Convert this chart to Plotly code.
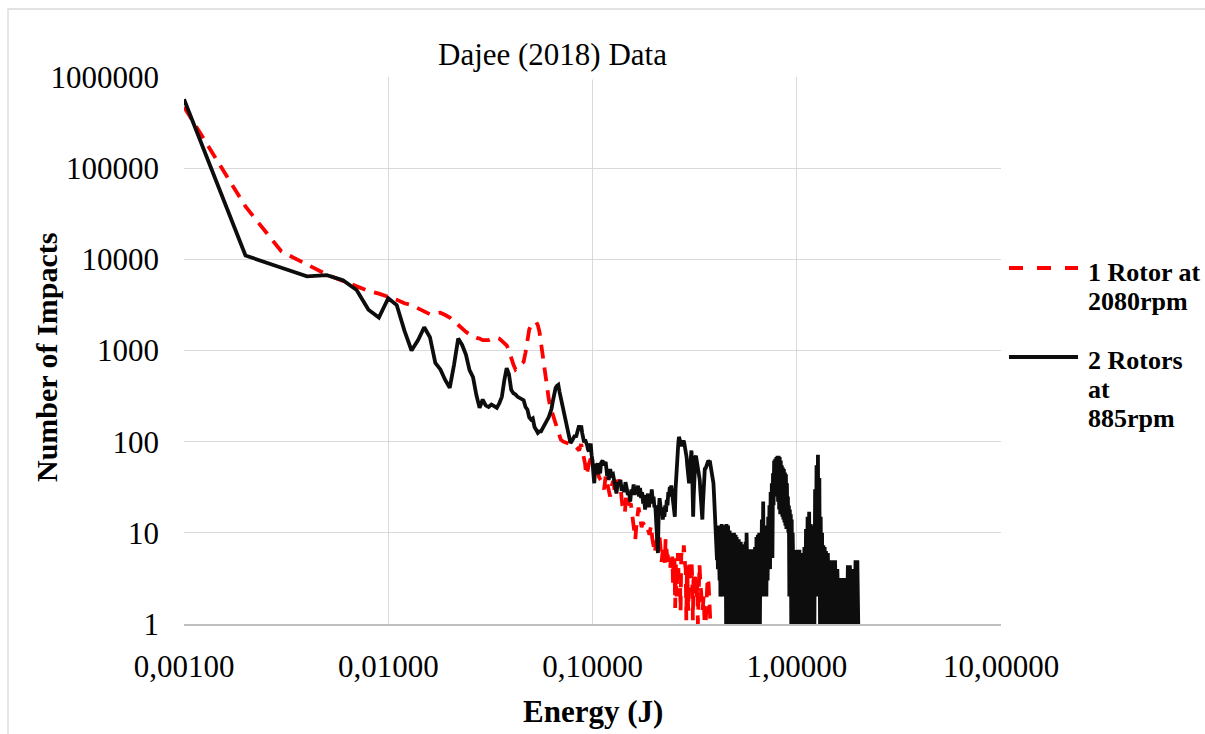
import plotly.graph_objects as go

# ---------------- data (energy in mJ, converted to J below) ----------------
# 2 Rotors at 885rpm
black_energy_mj = [
    1, 2, 3, 4, 5, 6, 7, 8, 9, 10,
    11, 12, 13, 14, 15, 16, 17, 18, 19, 20,
    21, 22, 23, 24, 25, 26, 27, 28, 29, 30,
    31, 32, 33, 34, 35, 36, 37, 38, 39, 40,
    41, 42, 43, 44, 45, 46, 47, 48, 49, 50,
    51, 52, 53, 54, 55, 56, 57, 58, 59, 60,
    61, 62, 63, 64, 65, 66, 67, 68, 69, 70,
    71, 72, 73, 74, 75, 76, 77, 78, 79, 80,
    81, 82, 83, 84, 85, 86, 87, 88, 89, 90,
    91, 92, 93, 94, 95, 96, 97, 98, 99, 100,
    101, 102, 103, 104, 105, 106, 107, 108, 109, 110,
    112, 114, 116, 118, 119, 120, 122, 124, 126, 128, 130,
    131, 133, 135, 137, 139, 141, 143, 145, 147, 149,
    151, 153, 155, 157, 159, 161, 163, 165, 167, 169,
    171, 173, 175, 177, 179, 181, 183, 185, 187, 189,
    191, 193, 195, 197, 199, 201, 203, 205, 207, 209,
    211, 213, 215, 217, 219, 221, 223, 225, 227, 229,
    231, 233, 235, 237, 239, 241, 243, 245, 247, 249,
    251, 253, 255, 257, 259, 261, 263, 265, 267, 269,
    271, 273, 275, 277, 279, 281, 283, 285, 287, 289,
    291, 293, 295, 297, 299, 301, 303, 305, 307, 309,
    311, 313, 315, 317, 319, 321, 323, 325, 327, 329,
    331, 333, 335, 337, 339, 341, 343, 345, 347, 349,
    351, 353, 355, 357, 359, 361, 363, 365, 367, 369,
    371, 373, 375, 377, 379, 381, 383, 385, 387, 389,
    391, 393, 395, 397, 399, 401, 403, 405, 407, 409,
    411, 413, 415, 417, 419, 421, 423, 425, 427, 429,
    431, 433, 435, 437, 439, 441, 443, 445, 447, 449,
    451, 453, 455, 457, 459, 461, 463, 465, 467, 469,
    471, 473, 475, 477, 479, 481, 483, 485, 487, 489,
    491, 493, 495, 497, 499,
    502, 505, 508, 511, 514, 517, 520, 523, 526, 529,
    532, 535, 538, 541, 544, 547, 550, 553, 556, 559,
    562, 565, 568, 571, 574, 577, 580, 583, 586, 589,
    592, 595, 598, 601,
    605, 610, 615, 620, 625, 630, 635, 640, 645, 650,
    655, 660, 665, 670, 675, 680, 685, 690, 695, 700,
    705, 710, 715, 720, 725, 730, 735, 740, 745, 750,
    755, 760, 765, 770, 775, 780, 785, 790, 795, 800,
    805, 810, 815, 820, 825, 830, 835, 840, 845, 850,
    855, 860, 865, 870, 875, 880, 885, 890, 895, 900,
    905, 910, 915, 920, 925, 930, 935, 940, 945, 950,
    955, 960, 965, 970, 975, 980, 985, 990, 995,
    1000, 1010, 1020, 1030, 1040, 1050, 1060, 1070, 1080, 1090,
    1100, 1110, 1120, 1130, 1140, 1150, 1160, 1170, 1180, 1190,
    1200, 1210, 1220, 1230, 1240, 1250, 1260, 1270, 1280, 1290,
    1300, 1310, 1320, 1330, 1340, 1350, 1360, 1370, 1380, 1390,
    1400,
    1420, 1440, 1460, 1480, 1500, 1520, 1540, 1560, 1580, 1600,
    1620, 1640, 1660, 1680, 1700, 1720, 1740, 1760, 1780, 1800,
    1820, 1840, 1860, 1880, 1900, 1920, 1940, 1960, 1980, 2000,
]
black_impacts = [
    570000, 11000, 8100, 6500, 6700, 5900, 4600, 2800, 2300, 3750,
    3150, 1650, 1000, 1300, 1800, 1400, 730, 620, 475, 390,
    700, 1350, 1150, 900, 610, 510, 325, 235, 290, 250,
    240, 255, 245, 235, 265, 310, 470, 640, 550, 370,
    340, 330, 310, 300, 290, 285, 240, 225, 185, 175,
    180, 145, 135, 125, 130, 130, 140, 150, 160, 170,
    185, 205, 230, 280, 340, 390, 410, 420, 350, 300,
    260, 220, 180, 160, 135, 120, 105, 97, 100, 105,
    112, 117, 112, 125, 140, 150, 140, 150, 125, 112,
    98, 105, 100, 92, 82, 78, 90, 95, 71, 62,
    45, 35, 50, 57, 52, 58, 44, 52, 45, 58,
    62, 55, 60, 42, 45, 38, 50, 43, 44, 33, 30,
    27, 36, 33, 38, 29, 33, 28, 36, 31, 26,
    28, 22, 30, 27, 34, 26, 32, 27, 33, 25,
    31, 24, 28, 21, 23, 18, 26, 22, 27, 19,
    24, 21, 30, 23, 25, 19, 20, 13, 10, 6,
    17, 24, 20, 16, 19, 14, 18, 15, 20, 17,
    23, 20, 28, 25, 32, 28, 33, 27, 26, 18,
    16, 15, 30, 45, 62, 75, 95, 113, 105, 95,
    92, 89, 95, 100, 103, 98, 90, 80, 72, 67,
    55, 45, 40, 35, 45, 55, 70, 80, 60, 30,
    15, 25, 45, 60, 68, 70, 65, 58, 52, 48,
    48, 45, 38, 30, 22, 17, 14, 14, 20, 30,
    42, 50, 52, 50, 52, 55, 58, 60, 62, 62,
    61, 60, 62, 58, 52, 48, 45, 47, 45, 42,
    35, 28, 22, 17, 14, 11, 12, 8, 5, 10,
    4, 12, 5, 12, 3, 12, 2, 12, 3, 12.5,
    5, 12.5, 2, 12, 4, 11, 2, 10.6, 1, 12,
    1, 12.5, 1, 12.5, 1, 12, 1, 11, 1, 10.6,
    1, 10.6, 1, 10, 1, 10, 2.8, 10, 2.8, 10,
    2, 10, 1, 10, 1,
    9.5, 1, 9, 1, 8.5, 1, 8.5, 1, 8, 1,
    8, 1, 7.5, 1, 7.4, 1, 7.4, 1, 7.4, 1,
    8, 1, 10, 1, 8, 1, 6.6, 1, 6.6, 1,
    6.6, 1, 6.6, 1,
    6.6, 1, 6.6, 1, 7, 1, 9, 1, 9.5, 1,
    10, 1, 10, 2.8, 14, 2.8, 22, 2, 12, 2,
    10, 2, 12, 3, 15, 4, 20, 4, 28, 5.3,
    35, 5.3, 45, 20, 62, 25, 65, 26, 68, 26,
    70, 22, 70, 18, 68, 16, 62, 16, 55, 15,
    52, 14, 50, 13, 46, 12, 44, 11, 35, 11,
    25, 10, 20, 2, 18, 2, 16, 1, 14, 1,
    10, 1, 7, 1, 6.5, 1, 6.5, 1, 6.5,
    1, 6.5, 1, 6.5, 1, 6, 1, 5, 1, 7,
    1, 11, 1, 15, 1, 17, 1, 12.5, 1, 12,
    1, 11, 1, 30, 2, 55, 2, 72, 2, 40,
    1, 15, 1, 10, 1, 7.3, 1, 7, 1, 6.3,
    1,
    6, 1, 5, 1, 5, 1, 5, 1, 4, 1,
    3.2, 1, 3.2, 1, 3.2, 1, 3.2, 1, 4.4, 1,
    4.4, 1, 4, 1, 3.2, 1, 5, 1, 5, 1,
]

# 1 Rotor at 2080rpm
red_energy_mj = [
    1, 2, 3, 4, 5, 6, 7, 8, 9, 10,
    11, 12, 13, 14, 15, 16, 17, 18, 19, 20,
    21, 22, 23, 24, 25, 26, 27, 28, 29, 30,
    31, 32, 33, 34, 35, 36, 37, 38, 39, 40,
    41, 42, 43, 44, 45, 46, 47, 48, 49, 50,
    51, 52, 53, 54, 55, 56, 57, 58, 59, 60,
    61, 62, 63, 64, 65, 66, 67, 68, 69, 70,
    72, 74, 76, 78, 80, 82, 84, 86, 88, 90, 91, 92, 93, 94, 96, 98,
    100, 102, 104, 106, 108, 110, 112, 114, 116, 118,
    120, 122, 124, 126, 128, 130, 132, 134, 136, 138,
    140, 142, 144, 146, 148, 150, 152, 154, 156, 158,
    160, 162, 164, 166, 168, 170, 172, 174, 176, 178,
    180, 182, 184, 186, 188, 190, 192, 194, 196, 198,
    200, 202, 204, 206, 208, 210, 212, 214, 216, 218,
    220, 222, 224, 226, 228, 230, 232, 234, 236, 238,
    240, 242, 244, 246, 248, 250, 252, 254, 256, 258,
    260, 262, 264, 266, 268, 270, 272, 274, 276, 278,
    280, 282, 284, 286, 288, 290, 292, 294, 296, 298,
    300, 302, 304, 306, 308, 310, 312, 314, 316, 318,
    320, 322, 324, 326, 328, 330,
    334, 338, 342, 346, 350, 354, 358, 362, 366, 370, 374, 378,
]
red_impacts = [
    470000, 38000, 12200, 8700, 6800, 5800, 5000, 4500, 4200, 3900,
    3600, 3300, 3150, 2900, 2650, 2500, 2550, 2600, 2450, 2300,
    2100, 1900, 1700, 1600, 1500, 1420, 1380, 1350, 1300, 1300,
    1300, 1350, 1380, 1380, 1350, 1280, 1220, 1140, 1000, 820,
    700, 620, 650, 690, 720, 750, 950, 1250, 1700, 1900,
    2000, 2050, 2050, 1900, 1600, 1200, 850, 650, 450, 360,
    300, 245, 220, 190, 170, 150, 140, 128, 115, 105,
    100, 98, 97, 95, 94, 90, 85, 80, 94, 75, 62, 57, 43, 45, 57, 65,
    60, 57, 52, 45, 40, 38, 32, 30, 42, 35,
    29, 25, 32, 37, 30, 28, 38, 36, 38, 24,
    20, 18, 16.5, 25, 27, 22, 20, 21, 17, 15,
    12, 8.5, 12, 16, 19, 16, 14, 11.5, 13, 12.5,
    12, 11.5, 10.5, 10, 10.6, 9.5, 11, 12, 8.8, 7.5,
    6.6, 6, 7.5, 8.5, 8.8, 9, 10, 8, 6, 4.8,
    6, 7.3, 6, 4.7, 8.5, 6.6, 5.5, 5.5, 4.5, 4,
    4, 5.3, 4, 5.5, 2.7, 5.5, 5.3, 1.5, 4.5, 2,
    4.5, 6, 3.2, 3.3, 3.3, 1.4, 6, 5.3, 5.3, 5.3,
    7.3, 4.5, 4.5, 4, 1.1, 4, 3, 1.4, 3, 4.7,
    3.2, 4.5, 3.2, 4.5, 3, 1.1, 3, 3.3, 2.8, 3.3,
    2, 2.8, 2, 2.8, 1, 2.7,
    4.5, 2.7, 2, 1.4, 2, 1, 1, 2.8, 3.2, 2.8, 1.2, 1,
]

x_tick_values = [0.001, 0.01, 0.1, 1, 10]
x_tick_labels = ["0,00100", "0,01000", "0,10000", "1,00000", "10,00000"]
y_tick_values = [1, 10, 100, 1000, 10000, 100000, 1000000]
y_tick_labels = ["1", "10", "100", "1000", "10000", "100000", "1000000"]

black_energy = [e / 1000 for e in black_energy_mj]
red_energy = [e / 1000 for e in red_energy_mj]

# ---------------- layout geometry ----------------
FIG_W, FIG_H = 1205, 734
L, R, T, B = 184, 204, 77, 110
W = FIG_W - L - R
H = FIG_H - T - B


def px_x(px):
    return (px - L) / W


def px_y(py):
    return (FIG_H - B - py) / H


SERIF = "Liberation Serif, Times New Roman, serif"
GRID = "#d9d9d9"

fig = go.Figure()
fig.add_trace(go.Scatter(
    x=red_energy, y=red_impacts, mode="lines", name="1 Rotor at 2080rpm",
    line=dict(color="#ff0000", width=3.8, dash="14px,9px"), showlegend=False,
))
fig.add_trace(go.Scatter(
    x=black_energy, y=black_impacts, mode="lines", name="2 Rotors at 885rpm",
    line=dict(color="#0d0d0d", width=3.8), showlegend=False,
))

shapes = [
    # outer chart border
    dict(type="rect", xref="paper", yref="paper",
         x0=px_x(8), x1=px_x(1230), y0=px_y(760), y1=px_y(9),
         line=dict(color=GRID, width=1.3), layer="below"),
    # title background box
    dict(type="rect", xref="paper", yref="paper",
         x0=px_x(415), x1=px_x(715), y0=px_y(79.5), y1=px_y(22),
         fillcolor="white", line=dict(width=0), layer="above"),
    # legend samples
    dict(type="line", xref="paper", yref="paper",
         x0=px_x(1009), x1=px_x(1078), y0=px_y(268), y1=px_y(268),
         line=dict(color="#ff0000", width=4, dash="14px,14px")),
    dict(type="line", xref="paper", yref="paper",
         x0=px_x(1009), x1=px_x(1078), y0=px_y(357), y1=px_y(357),
         line=dict(color="#0d0d0d", width=4)),
]

annotations = [
    dict(text="Dajee (2018) Data", x=px_x(552), y=px_y(55), xref="paper", yref="paper",
         showarrow=False, xanchor="center", yanchor="middle",
         font=dict(family=SERIF, size=31, color="black")),
    dict(text="<b>Number of Impacts</b>", x=px_x(46), y=px_y(358), xref="paper", yref="paper",
         showarrow=False, xanchor="center", yanchor="middle", textangle=-90,
         font=dict(family=SERIF, size=30, color="black")),
    dict(text="<b>Energy (J)</b>", x=px_x(593), y=px_y(711), xref="paper", yref="paper",
         showarrow=False, xanchor="center", yanchor="middle",
         font=dict(family=SERIF, size=31, color="black")),
]
legend_lines = [("1 Rotor at", 272), ("2080rpm", 301), ("2 Rotors", 360), ("at", 389), ("885rpm", 418)]
for txt, yy in legend_lines:
    annotations.append(dict(
        text="<b>%s</b>" % txt, x=px_x(1086), y=px_y(yy), xref="paper", yref="paper",
        showarrow=False, xanchor="left", yanchor="middle",
        font=dict(family=SERIF, size=26, color="black")))

fig.update_layout(
    width=FIG_W, height=FIG_H, autosize=False,
    margin=dict(l=L, r=R, t=T, b=B, pad=0),
    paper_bgcolor="white", plot_bgcolor="white",
    showlegend=False,
    shapes=shapes, annotations=annotations,
    xaxis=dict(
        type="log", range=[-3, 1], tickvals=x_tick_values, ticktext=x_tick_labels,
        showgrid=True, gridcolor=GRID, gridwidth=1.3,
        showline=True, linecolor="#bfbfbf", linewidth=1.6,
        ticks="", zeroline=False, ticklabelstandoff=14,
        tickfont=dict(family=SERIF, size=31, color="black"),
    ),
    yaxis=dict(
        type="log", range=[0, 6], tickvals=y_tick_values, ticktext=y_tick_labels,
        showgrid=True, gridcolor=GRID, gridwidth=1.3,
        showline=False, ticks="", zeroline=False, ticklabelstandoff=24,
        tickfont=dict(family=SERIF, size=31, color="black"),
    ),
)

fig.write_html("out.html")
